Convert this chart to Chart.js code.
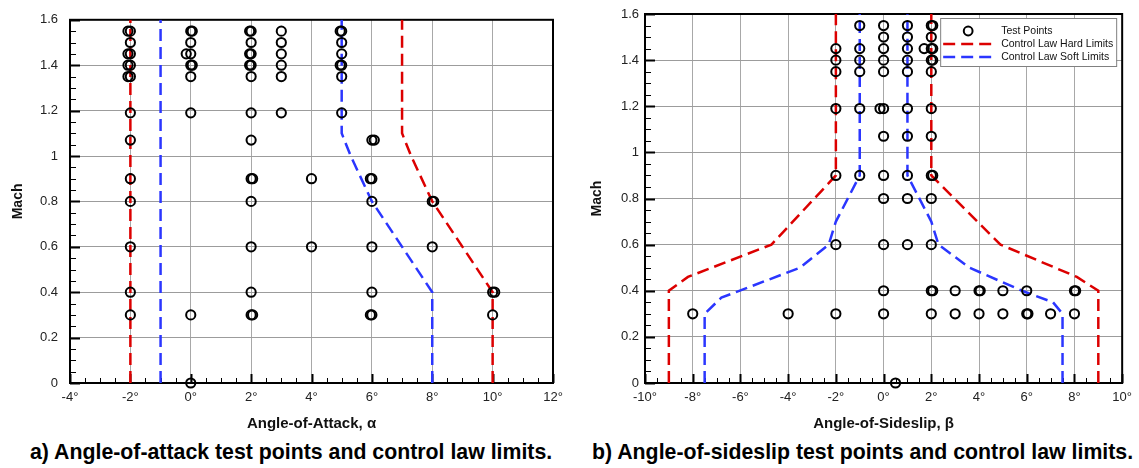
<!DOCTYPE html>
<html>
<head>
<meta charset="utf-8">
<script src="https://cdn.jsdelivr.net/npm/chart.js@4.4.1/dist/chart.umd.min.js"></script>
<style>
  html, body { margin: 0; padding: 0; background: #fff; width: 1139px; height: 468px; overflow: hidden;
    font-family: "Liberation Sans", Arial, sans-serif; }
  .panel { position: absolute; top: 0; height: 440px; }
  #panelA { left: 0; width: 570px; }
  #panelB { left: 570px; width: 569px; }
  .caption { position: absolute; top: 440px; line-height: 24px; font-size: 21.3px; font-weight: bold;
    color: #000; white-space: nowrap; }
  #capA { left: 30px; }
  #capB { left: 592px; }
</style>
</head>
<body>
<div class="panel" id="panelA"><canvas id="aoaChart" width="570" height="440"></canvas></div>
<div class="panel" id="panelB"><canvas id="sslChart" width="569" height="440"></canvas></div>
<div class="caption" id="capA">a) Angle-of-attack test points and control law limits.</div>
<div class="caption" id="capB">b) Angle-of-sideslip test points and control law limits.</div>

<script>
// ---- Tick labels ----
const machTickLabels = ['0', '0.2', '0.4', '0.6', '0.8', '1', '1.2', '1.4', '1.6'];
const alphaTickLabels = ['-4°', '-2°', '0°', '2°', '4°', '6°', '8°', '10°', '12°'];
const betaTickLabels = ['-10°', '-8°', '-6°', '-4°', '-2°', '0°', '2°', '4°', '6°', '8°', '10°'];

// ---- Angle-of-attack test points (one column per alpha, with its Mach numbers) ----
const aoaColumnAlpha = [-2, -2.08, 0, -0.15, 0.05, 2, 1.95, 2.05, 3, 4, 5, 4.95, 6, 6.08, 5.95, 8, 8.05, 10, 10.07];
const aoaColumnMach = [
  [1.55, 1.5, 1.45, 1.4, 1.35, 1.19, 1.07, 0.9, 0.8, 0.6, 0.4, 0.3],
  [1.55, 1.45, 1.4, 1.35],
  [1.55, 1.5, 1.45, 1.4, 1.35, 1.19, 0.3, 0],
  [1.45],
  [1.55, 1.4],
  [1.55, 1.5, 1.45, 1.4, 1.35, 1.19, 1.07, 0.9, 0.8, 0.6, 0.4, 0.3],
  [1.55, 1.45, 1.4],
  [0.9, 0.3],
  [1.55, 1.5, 1.45, 1.4, 1.35, 1.19],
  [0.9, 0.6],
  [1.55, 1.5, 1.45, 1.4, 1.35, 1.19],
  [1.55, 1.4],
  [1.07, 0.9, 0.8, 0.6, 0.4, 0.3],
  [1.07],
  [0.9, 0.3],
  [0.8, 0.6],
  [0.8],
  [0.4, 0.3],
  [0.4]
];

// ---- Angle-of-attack control law limits ----
const aoaHardLowAlpha = [-2, -2];
const aoaHardLowMach = [0, 1.6];
const aoaHardHighAlpha = [10, 10, 8, 7.3, 7, 7];
const aoaHardHighMach = [0, 0.4, 0.8, 1.0, 1.1, 1.6];
const aoaSoftLowAlpha = [-1, -1];
const aoaSoftLowMach = [0, 1.6];
const aoaSoftHighAlpha = [8, 8, 6, 5.3, 5, 5];
const aoaSoftHighMach = [0, 0.4, 0.8, 1.0, 1.1, 1.6];

// ---- Angle-of-sideslip test points ----
const sslColumnBeta = [-8, -4, -2, -1, 0, -0.15, 0.5, 1, 1.7, 2, 2.06, 3, 4, 4.05, 5, 6, 6.05, 7, 8, 8.05];
const sslColumnMach = [
  [0.3],
  [0.3],
  [1.45, 1.4, 1.35, 1.19, 0.9, 0.6, 0.3],
  [1.55, 1.45, 1.4, 1.35, 1.19, 0.9],
  [1.55, 1.5, 1.45, 1.4, 1.35, 1.19, 1.07, 0.9, 0.8, 0.6, 0.4, 0.3],
  [1.19],
  [0],
  [1.55, 1.5, 1.45, 1.4, 1.35, 1.19, 1.07, 0.9, 0.8, 0.6],
  [1.45],
  [1.55, 1.5, 1.45, 1.4, 1.35, 1.19, 1.07, 0.9, 0.8, 0.6, 0.4, 0.3],
  [1.55, 1.45, 1.4, 0.9, 0.4],
  [0.4, 0.3],
  [0.4, 0.3],
  [0.4],
  [0.4, 0.3],
  [0.4, 0.3],
  [0.3],
  [0.3],
  [0.4, 0.3],
  [0.4]
];

// ---- Angle-of-sideslip control law limits ----
const sslHardLeftBeta = [-9, -9, -8.2, -4.7, -2, -2];
const sslHardLeftMach = [0, 0.4, 0.46, 0.6, 0.9, 1.6];
const sslHardRightBeta = [9, 9, 8.1, 4.9, 2, 2];
const sslHardRightMach = [0, 0.4, 0.46, 0.6, 0.9, 1.6];
const sslSoftLeftBeta = [-7.5, -7.5, -6.8, -3.5, -2.3, -2.0, -1, -1];
const sslSoftLeftMach = [0, 0.3, 0.37, 0.5, 0.6, 0.7, 0.9, 1.6];
const sslSoftRightBeta = [7.5, 7.5, 7.1, 5.8, 3.6, 2.3, 2.0, 1, 1];
const sslSoftRightMach = [0, 0.3, 0.35, 0.4, 0.5, 0.6, 0.7, 0.9, 1.6];

// ---- Helpers ----
const RED = '#dc0000';
const BLUE = '#2b36ff';
const FONT = '"Liberation Sans", Arial, sans-serif';
Chart.defaults.font.family = FONT;

function toXY(xs, ys) {
  return xs.map((x, i) => ({ x: x, y: ys[i] }));
}
function columnsToXY(cols, machs) {
  const out = [];
  cols.forEach((c, i) => machs[i].forEach(m => out.push({ x: c, y: m })));
  return out;
}
function pointsDataset(data) {
  return {
    label: 'Test Points', data: data, showLine: false, inLegend: true, kind: 'points',
    pointStyle: 'circle', pointRadius: 4.6, pointHoverRadius: 4.6,
    borderWidth: 2, pointBorderWidth: 2, borderColor: '#000', pointBorderColor: '#000',
    backgroundColor: 'rgba(0,0,0,0)', pointBackgroundColor: 'rgba(0,0,0,0)', clip: false
  };
}
function limitDataset(label, color, xs, ys, inLegend) {
  return {
    label: label, data: toXY(xs, ys), showLine: true, inLegend: inLegend, kind: 'line',
    borderColor: color, backgroundColor: color, borderWidth: 2.5, borderDash: [12, 6],
    pointRadius: 0, pointHoverRadius: 0, tension: 0, fill: false
  };
}

// Frame around the plot area with inward major/minor ticks on the left and bottom
const frameTicks = {
  id: 'frameTicks',
  beforeDatasetsDraw(chart, args, o) {
    const { ctx, chartArea: a } = chart;
    const xs = chart.scales.x, ys = chart.scales.y;
    ctx.save();
    ctx.strokeStyle = '#000';
    const nx = Math.round((xs.max - xs.min) / o.xMinor);
    for (let i = 0; i <= nx; i++) {
      const px = Math.round(xs.getPixelForValue(xs.min + i * o.xMinor)) + 0.5;
      const major = i % o.perMajor === 0;
      ctx.lineWidth = major ? 2 : 1;
      ctx.beginPath();
      ctx.moveTo(px, a.bottom);
      ctx.lineTo(px, a.bottom - (major ? 9 : 5));
      ctx.stroke();
    }
    const ny = Math.round((ys.max - ys.min) / o.yMinor);
    for (let i = 0; i <= ny; i++) {
      const py = Math.round(ys.getPixelForValue(ys.min + i * o.yMinor)) + 0.5;
      const major = i % o.perMajor === 0;
      ctx.lineWidth = major ? 2 : 1;
      ctx.beginPath();
      ctx.moveTo(a.left, py);
      ctx.lineTo(a.left + (major ? 10 : 6), py);
      ctx.stroke();
    }
    ctx.lineWidth = 2;
    ctx.strokeRect(a.left, a.top, a.right - a.left, a.bottom - a.top);
    ctx.restore();
  }
};

// Boxed legend drawn inside the plot area
const boxLegend = {
  id: 'boxLegend',
  afterDraw(chart, args, o) {
    if (!o.display) return;
    const { ctx, chartArea: a } = chart;
    const right = a.right - o.offsetRight;
    const left = right - o.width;
    const top = a.top + o.offsetTop;
    ctx.save();
    ctx.fillStyle = '#fff';
    ctx.fillRect(left, top, o.width, o.height);
    ctx.strokeStyle = '#808080';
    ctx.lineWidth = 1;
    ctx.strokeRect(left + 0.5, top + 0.5, o.width, o.height);
    const items = chart.data.datasets.filter(d => d.inLegend);
    items.forEach((d, i) => {
      const cy = top + 13 + i * 13;
      if (d.kind === 'points') {
        ctx.strokeStyle = '#000';
        ctx.lineWidth = 2;
        ctx.beginPath();
        ctx.arc(left + 28, cy, 4.4, 0, Math.PI * 2);
        ctx.stroke();
      } else {
        ctx.strokeStyle = d.borderColor;
        ctx.lineWidth = 2.5;
        ctx.setLineDash([12, 6]);
        ctx.beginPath();
        ctx.moveTo(left + 3, cy);
        ctx.lineTo(left + 51, cy);
        ctx.stroke();
        ctx.setLineDash([]);
      }
      ctx.fillStyle = '#111';
      ctx.font = '10.5px ' + FONT;
      ctx.textAlign = 'left';
      ctx.textBaseline = 'middle';
      ctx.fillText(d.label, left + 61, cy);
    });
    ctx.restore();
  }
};

function makeOptions(cfg) {
  return {
    responsive: false,
    animation: false,
    devicePixelRatio: 1,
    layout: { padding: { top: 14, right: cfg.padRight, left: 0, bottom: 0 } },
    plugins: {
      legend: { display: false },
      tooltip: { enabled: false },
      frameTicks: { xMinor: 0.5, yMinor: 0.05, perMajor: 4 },
      boxLegend: { display: cfg.legend, offsetRight: 6, offsetTop: 4, width: 176, height: 48 }
    },
    scales: {
      x: {
        type: 'linear', min: cfg.xMin, max: cfg.xMax,
        afterFit: s => { s.height = 57; },
        border: { display: false },
        grid: { color: '#a8a8a8', lineWidth: 1, drawTicks: false },
        ticks: {
          stepSize: 2, padding: 7, color: '#222', font: { size: 13 },
          callback: v => cfg.xLabels[Math.round((v - cfg.xMin) / 2)]
        },
        title: {
          display: true, text: cfg.xTitle, color: '#111',
          font: { size: 15, weight: 'bold' }, padding: { top: 0, bottom: 7 }
        }
      },
      y: {
        type: 'linear', min: 0, max: 1.6,
        afterFit: s => { s.width = cfg.yWidth; },
        border: { display: false },
        grid: { color: '#9c9c9c', lineWidth: 1, drawTicks: false },
        ticks: {
          stepSize: 0.2, padding: cfg.yPad, color: '#222', font: { size: 13 },
          callback: v => machTickLabels[Math.round(v / 0.2)]
        },
        title: {
          display: true, text: 'Mach', color: '#111',
          font: { size: 14, weight: 'bold' }, padding: { top: cfg.yTitlePad, bottom: 0 }
        }
      }
    }
  };
}

new Chart(document.getElementById('aoaChart'), {
  type: 'scatter',
  data: {
    datasets: [
      pointsDataset(columnsToXY(aoaColumnAlpha, aoaColumnMach)),
      limitDataset('Control Law Hard Limits', RED, aoaHardLowAlpha, aoaHardLowMach, true),
      limitDataset('Control Law Hard Limits', RED, aoaHardHighAlpha, aoaHardHighMach, false),
      limitDataset('Control Law Soft Limits', BLUE, aoaSoftLowAlpha, aoaSoftLowMach, true),
      limitDataset('Control Law Soft Limits', BLUE, aoaSoftHighAlpha, aoaSoftHighMach, false)
    ]
  },
  options: makeOptions({
    xMin: -4, xMax: 12, xLabels: alphaTickLabels, xTitle: 'Angle-of-Attack, α',
    yWidth: 70, yPad: 12, yTitlePad: 10, padRight: 17, legend: false
  }),
  plugins: [frameTicks, boxLegend]
});

new Chart(document.getElementById('sslChart'), {
  type: 'scatter',
  data: {
    datasets: [
      pointsDataset(columnsToXY(sslColumnBeta, sslColumnMach)),
      limitDataset('Control Law Hard Limits', RED, sslHardLeftBeta, sslHardLeftMach, true),
      limitDataset('Control Law Hard Limits', RED, sslHardRightBeta, sslHardRightMach, false),
      limitDataset('Control Law Soft Limits', BLUE, sslSoftLeftBeta, sslSoftLeftMach, true),
      limitDataset('Control Law Soft Limits', BLUE, sslSoftRightBeta, sslSoftRightMach, false)
    ]
  },
  options: makeOptions({
    xMin: -10, xMax: 10, xLabels: betaTickLabels, xTitle: 'Angle-of-Sideslip, β',
    yWidth: 75, yPad: 6, yTitlePad: 19, padRight: 11, legend: true
  }),
  plugins: [frameTicks, boxLegend]
});
</script>
</body>
</html>
